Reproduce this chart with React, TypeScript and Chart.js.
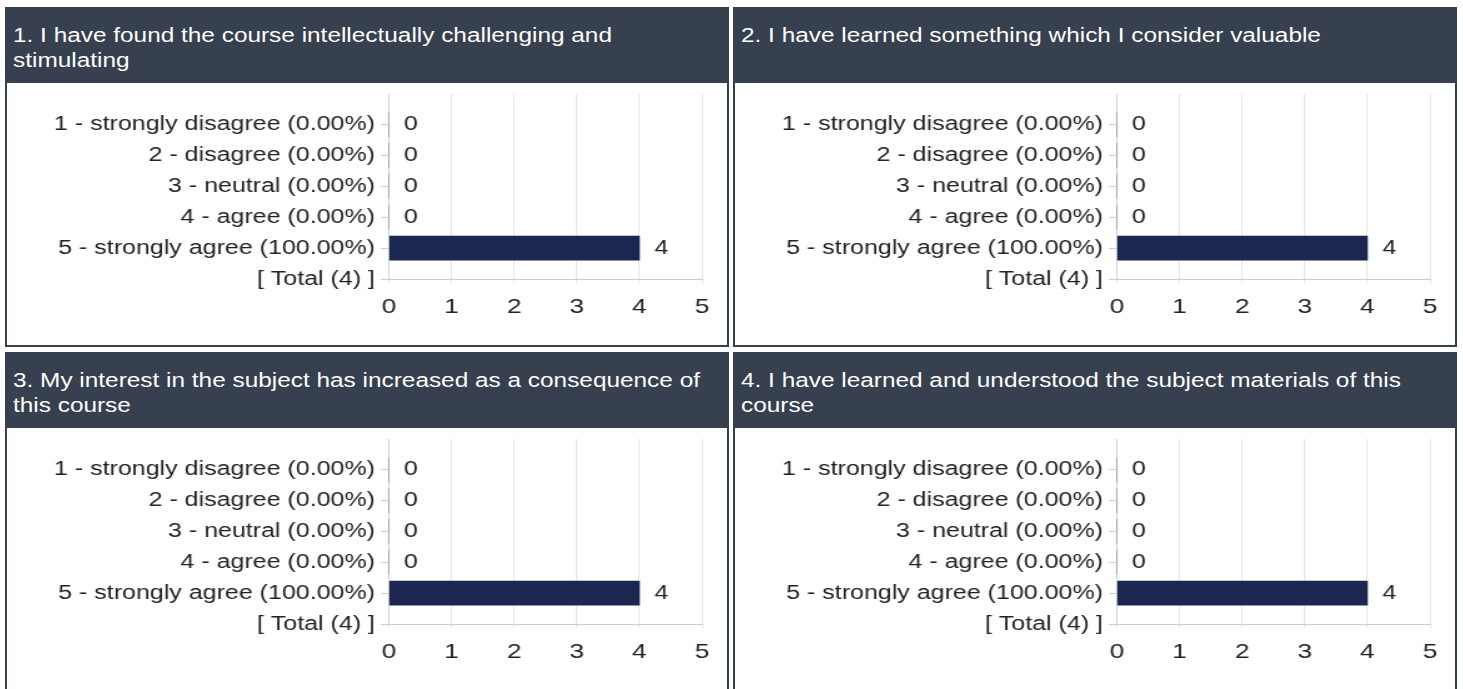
import React, { useEffect, useRef } from "react";
import { Chart, registerables } from "chart.js";

Chart.register(...registerables);

const FONT = "Arial, 'Liberation Sans', sans-serif";

const questionTitles = [
  "1. I have found the course intellectually challenging and stimulating",
  "2. I have learned something which I consider valuable",
  "3. My interest in the subject has increased as a consequence of this course",
  "4. I have learned and understood the subject materials of this course",
];

const categoryLabels = [
  "1 - strongly disagree (0.00%)",
  "2 - disagree (0.00%)",
  "3 - neutral (0.00%)",
  "4 - agree (0.00%)",
  "5 - strongly agree (100.00%)",
];

const totalLabel = "[ Total (4) ]";

const q1Counts = [0, 0, 0, 0, 4];
const q2Counts = [0, 0, 0, 0, 4];
const q3Counts = [0, 0, 0, 0, 4];
const q4Counts = [0, 0, 0, 0, 4];

const allCounts = [q1Counts, q2Counts, q3Counts, q4Counts];

const xMin = 0;
const xMax = 5;
const xStep = 1;

const HEADER_BG = "#36404f";
const BAR_COLOR = "#1b2651";
const TEXT_COLOR = "#222222";

// the reference picture is stretched horizontally
const SX = 1.25;
const BODY_W = 720;
const BODY_H = 262;
const CANVAS_W = BODY_W / SX;

const valueLabelsPlugin = {
  id: "valueLabels",
  afterDatasetsDraw(chart: any) {
    const { ctx, scales } = chart;
    const xs = scales.x;
    const ys = scales.y;
    const data = chart.data.datasets[0].data;
    ctx.save();
    ctx.font = `20px ${FONT}`;
    ctx.fillStyle = TEXT_COLOR;
    ctx.textAlign = "left";
    ctx.textBaseline = "middle";
    data.forEach((v: any, i: number) => {
      if (v === null || v === undefined) return;
      ctx.fillText(String(v), xs.getPixelForValue(v) + 15 / SX, ys.getPixelForValue(i));
    });
    ctx.restore();
  },
};

function Panel({ title, counts, left, top }: { title: string; counts: number[]; left: number; top: number }) {
  const ref = useRef<HTMLCanvasElement | null>(null);
  useEffect(() => {
    if (!ref.current) return;
    const labels = ["", ...categoryLabels, totalLabel];
    const data = [null, ...counts, null];
    const chart = new Chart(ref.current, {
      type: "bar",
      data: {
        labels,
        datasets: [
          {
            data,
            backgroundColor: BAR_COLOR,
            borderWidth: 0,
            barThickness: 24,
          },
        ],
      },
      plugins: [valueLabelsPlugin],
      options: {
        indexAxis: "y",
        animation: false,
        responsive: false,
        devicePixelRatio: 1,
        layout: { padding: { top: 11, left: 0, right: 20, bottom: 0 } },
        plugins: { legend: { display: false }, tooltip: { enabled: false } },
        scales: {
          y: {
            type: "category",
            offset: false,
            afterFit: (s: any) => {
              s.width = 382 / SX;
              s.paddingTop = 0;
              s.paddingBottom = 0;
            },
            grid: {
              offset: false,
              drawOnChartArea: false,
              drawTicks: true,
              tickLength: 8 / SX,
              color: (c: any) => (c.index === 0 ? "rgba(0,0,0,0)" : "#cccccc"),
            },
            border: { display: true, color: "#cccccc", width: 0.8 },
            ticks: {
              autoSkip: false,
              padding: 4.8,
              color: TEXT_COLOR,
              font: { family: FONT, size: 20 },
            },
          },
          x: {
            type: "linear",
            min: xMin,
            max: xMax,
            afterFit: (s: any) => {
              s.height = 66;
            },
            grid: {
              color: "#dddddd",
              lineWidth: 0.8,
              drawTicks: true,
              tickLength: 4,
            },
            border: { display: true, color: "#cccccc", width: 1 },
            ticks: {
              stepSize: xStep,
              padding: 12,
              color: TEXT_COLOR,
              font: { family: FONT, size: 21 },
              maxRotation: 0,
            },
          },
        },
      },
    } as any);
    return () => chart.destroy();
  }, [counts]);

  return (
    <div
      style={{
        position: "absolute",
        left,
        top,
        width: 724,
        height: 340,
        background: HEADER_BG,
        overflow: "hidden",
      }}
    >
      <div
        style={{
          position: "absolute",
          left: 8,
          top: 16,
          width: 708 / SX,
          color: "#ffffff",
          fontFamily: FONT,
          fontSize: 19.5,
          lineHeight: "25px",
          transform: `scaleX(${SX})`,
          transformOrigin: "0 0",
        }}
      >
        {title}
      </div>
      <div
        style={{
          position: "absolute",
          left: 2,
          top: 76,
          width: BODY_W,
          height: BODY_H,
          background: "#ffffff",
          overflow: "hidden",
        }}
      >
        <div style={{ width: CANVAS_W, height: BODY_H, transform: `scaleX(${SX})`, transformOrigin: "0 0" }}>
          <canvas ref={ref} width={CANVAS_W} height={BODY_H} style={{ display: "block", width: CANVAS_W, height: BODY_H }} />
        </div>
      </div>
    </div>
  );
}

const panelPositions = [
  { left: 5, top: 7 },
  { left: 733, top: 7 },
  { left: 5, top: 352 },
  { left: 733, top: 352 },
];

export default function App() {
  return (
    <div style={{ position: "absolute", left: 0, top: 0, width: 1463, height: 689, overflow: "hidden", background: "#fff" }}>
      {questionTitles.map((t, i) => (
        <Panel key={i} title={t} counts={allCounts[i]} left={panelPositions[i].left} top={panelPositions[i].top} />
      ))}
    </div>
  );
}
